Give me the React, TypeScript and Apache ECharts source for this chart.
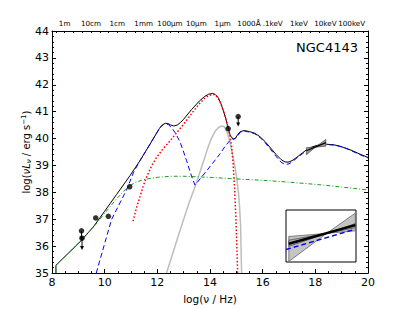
import React, { useEffect, useRef } from "react";
import * as echarts from "echarts";

// ---- data (log nu [Hz], log nuL_nu [erg/s]) ----
const totalModel = [[8.15,35.0],[8.15,35.29],[8.6,35.72],[9.1,36.2],[9.57,36.72],[10.0,37.3],[10.45,37.92],[10.96,38.62],[11.34,39.18],[11.72,39.79],[11.97,40.2],[12.08,40.38],[12.18,40.5],[12.3,40.57],[12.4,40.56],[12.5,40.51],[12.62,40.47],[12.75,40.5],[12.88,40.6],[13.0,40.72],[13.3,41.08],[13.6,41.4],[13.8,41.57],[13.95,41.65],[14.1,41.68],[14.2,41.64],[14.3,41.54],[14.4,41.34],[14.5,41.06],[14.6,40.74],[14.69,40.39],[14.76,40.15],[14.82,40.04],[14.9,39.99],[14.97,40.02],[15.05,40.15],[15.15,40.26],[15.3,40.3],[15.5,40.26],[15.7,40.2],[15.9,40.07],[16.1,39.88],[16.3,39.65],[16.5,39.42],[16.7,39.22],[16.85,39.13],[17.0,39.13],[17.15,39.2],[17.3,39.31],[17.5,39.46],[17.66,39.58],[17.85,39.68],[18.0,39.73],[18.2,39.78],[18.42,39.79],[18.7,39.77],[18.93,39.72],[19.2,39.63],[19.43,39.54],[19.7,39.42],[20.0,39.3]];
const synchrotron = [[8.15,35.0],[8.15,35.29],[8.6,35.72],[9.1,36.2],[9.57,36.7],[10.0,37.22],[10.45,37.76],[10.8,38.12],[11.0,38.28],[11.2,38.38],[11.4,38.45],[11.6,38.5],[12.0,38.56],[12.5,38.6],[13.0,38.6],[13.5,38.58],[14.0,38.56],[15.0,38.5],[16.0,38.45],[17.0,38.38],[18.0,38.3],[19.0,38.2],[20.0,38.09]];
const agnModel = [[9.68,35.0],[10.26,36.99],[10.83,38.09],[11.1,38.75],[11.34,39.18],[11.72,39.79],[11.97,40.2],[12.1,40.4],[12.22,40.52],[12.32,40.55],[12.42,40.52],[12.55,40.4],[12.7,40.18],[12.86,39.88],[13.0,39.5],[13.11,39.18],[13.3,38.6],[13.43,38.27],[13.87,38.8],[14.37,39.42],[14.6,39.75],[14.82,40.0],[14.92,39.97],[15.05,40.1],[15.15,40.24],[15.3,40.28],[15.5,40.24],[15.7,40.18],[15.9,40.04],[16.1,39.84],[16.3,39.6],[16.5,39.35],[16.7,39.12],[16.85,39.04],[17.0,39.06],[17.15,39.16],[17.3,39.28],[17.5,39.43],[17.66,39.55],[17.85,39.65],[18.0,39.7],[18.2,39.76],[18.42,39.78],[18.7,39.76],[18.93,39.71],[19.2,39.62],[19.43,39.52],[19.7,39.4],[20.0,39.28]];
const starburst = [[11.08,36.93],[11.2,37.4],[11.34,37.84],[11.46,38.22],[11.59,38.57],[11.78,38.98],[11.97,39.3],[12.2,39.6],[12.48,39.91],[12.72,40.2],[12.98,40.51],[13.3,40.93],[13.6,41.3],[13.8,41.5],[13.95,41.6],[14.1,41.65],[14.2,41.62],[14.3,41.52],[14.4,41.32],[14.5,41.05],[14.6,40.73],[14.69,40.39],[14.76,40.08],[14.82,39.7],[14.88,39.05],[14.93,38.2],[14.98,37.1],[15.02,36.0],[15.05,35.0]];
const stellar = [[12.35,35.0],[12.8,36.4],[13.2,37.6],[13.5,38.4],[13.7,39.0],[13.9,39.6],[14.05,40.0],[14.2,40.28],[14.33,40.42],[14.45,40.47],[14.55,40.43],[14.65,40.25],[14.75,39.9],[14.85,39.45],[14.95,38.95],[15.02,38.5],[15.08,38.0],[15.12,37.5],[15.16,36.8],[15.2,35.0]];
const detections = [[9.66,37.05],[10.14,37.11],[10.95,38.21],[14.69,40.37]];
// [x, y, arrow tip y]
const upperLimits = [[9.12,36.57,36.25],[9.14,36.3,35.9],[15.07,40.82,40.49]];
const xrayBowtie = [[17.66,39.4],[18.0,39.68],[18.4,39.97],[18.4,39.72],[18.0,39.68],[17.66,39.66]];
const xrayLine = [[17.66,39.55],[18.4,39.85]];

// inset (normalized box coordinates)
const insetWide = [[0.04,0.01],[0.58,0.55],[0.99,0.94],[0.99,0.6],[0.58,0.55],[0.04,0.49]];
const insetNarrow = [[0.04,0.3],[0.58,0.55],[0.99,0.74],[0.99,0.66],[0.58,0.55],[0.04,0.42]];
const insetBlack = [[0.04,0.35],[0.99,0.71]];
const insetBlue = [[0.0,0.24],[0.99,0.63]];

const topTickValues = [8.48,9.48,10.48,11.48,12.48,13.48,14.48,15.48,16.38,17.38,18.38,19.38];
const topTickLabels = ["1m","10cm","1cm","1mm","100μm","10μm","1μm","1000Å",".1keV","1keV","10keV","100keV"];

const FONT = "DejaVu Sans";

export default function App() {
  const ref = useRef<HTMLDivElement>(null);
  useEffect(() => {
    const chart = echarts.init(ref.current!, undefined, { renderer: "svg" });
    const topMinor: number[] = [];
    for (let v = 8.15; v < 20; v += 0.333) topMinor.push(Math.round(v * 1000) / 1000);
    const polyItem = (pts: number[][], fill: string, stroke: string) => (params: any, api: any) => ({
      type: "polygon",
      shape: { points: pts.map((p) => api.coord(p)) },
      style: { fill, stroke, lineWidth: 0.8 },
    });
    const axisCommon = {
      axisLine: { show: true, lineStyle: { color: "#000", width: 1 } },
      splitLine: { show: false },
    };
    chart.setOption({
      animation: false,
      backgroundColor: "#fff",
      grid: [
        { left: 52, top: 31, width: 316, height: 247 },
        { left: 286, top: 210, width: 70, height: 52, show: true, borderColor: "#000", borderWidth: 1, backgroundColor: "#fff", z: 10 },
      ],
      xAxis: [
        {
          ...axisCommon, type: "value", gridIndex: 0, position: "bottom", min: 8, max: 20, interval: 2,
          axisTick: { show: true, inside: true, length: 4, lineStyle: { color: "#000" } },
          minorTick: { show: true, splitNumber: 4, length: 2, lineStyle: { color: "#000" } },
          axisLabel: { color: "#000", fontFamily: FONT, fontSize: 11, margin: 4 },
          name: "log(ν / Hz)", nameLocation: "middle", nameGap: 17,
          nameTextStyle: { color: "#000", fontFamily: FONT, fontSize: 10.5 },
        },
        {
          ...axisCommon, type: "value", gridIndex: 0, position: "top", min: 8, max: 20,
          axisTick: { show: true, inside: true, length: 2, customValues: topMinor, lineStyle: { color: "#000" } },
          axisLabel: {
            show: true, color: "#000", fontFamily: FONT, fontSize: 7.2, margin: 4,
            customValues: topTickValues,
            formatter: (v: number) => {
              const i = topTickValues.findIndex((t) => Math.abs(t - v) < 1e-6);
              return i >= 0 ? topTickLabels[i] : "";
            },
          },
        },
        { type: "value", gridIndex: 1, min: 0, max: 1, show: false },
      ],
      yAxis: [
        {
          ...axisCommon, type: "value", gridIndex: 0, position: "left", min: 35, max: 44, interval: 1,
          axisTick: { show: true, inside: true, length: 4, lineStyle: { color: "#000" } },
          minorTick: { show: true, splitNumber: 5, length: 2, lineStyle: { color: "#000" } },
          axisLabel: { color: "#000", fontFamily: FONT, fontSize: 11, margin: 3 },
          name: "{n|log(}{i|νL}{s|ν}{n| / erg s}{p|−1}{n|)}", nameLocation: "middle", nameGap: 20, nameRotate: 90,
          nameMoveOverlap: false,
          nameTextStyle: {
            color: "#000", fontFamily: FONT, fontSize: 10,
            rich: {
              n: { fontFamily: FONT, fontSize: 10, color: "#000" },
              i: { fontFamily: FONT, fontSize: 10, fontStyle: "italic", color: "#000" },
              s: { fontFamily: FONT, fontSize: 7, fontStyle: "italic", color: "#000", verticalAlign: "bottom", padding: [4, 0, 0, 0] },
              p: { fontFamily: FONT, fontSize: 7, color: "#000", verticalAlign: "top", padding: [0, 0, 5, 0] },
            },
          },
        },
        {
          ...axisCommon, type: "value", gridIndex: 0, position: "right", min: 35, max: 44, interval: 1,
          axisTick: { show: true, inside: true, length: 4, lineStyle: { color: "#000" } },
          minorTick: { show: true, splitNumber: 5, length: 2, lineStyle: { color: "#000" } },
          axisLabel: { show: false },
        },
        { type: "value", gridIndex: 1, min: 0, max: 1, show: false },
      ],
      graphic: [
        { type: "text", right: 51, top: 41, style: { text: "NGC4143", fontFamily: FONT, fontSize: 13, fill: "#000" } },
      ],
      series: [
        { type: "line", data: totalModel, symbol: "none", lineStyle: { color: "#000", width: 1 }, z: 2 },
        { type: "line", data: stellar, symbol: "none", lineStyle: { color: "#bdbdbd", width: 1.5 }, z: 3 },
        { type: "line", data: synchrotron, symbol: "none", lineStyle: { color: "#1f9a1f", width: 1, type: [4, 2, 1, 2] }, z: 4 },
        { type: "line", data: agnModel, symbol: "none", lineStyle: { color: "#0000ff", width: 1, type: [5, 3] }, z: 5 },
        { type: "line", data: starburst, symbol: "none", lineStyle: { color: "#ff0000", width: 1.5, type: [1.5, 2] }, z: 6 },
        { type: "custom", data: [[0]], renderItem: polyItem(xrayBowtie, "#9a9a9a", "#555"), z: 7 },
        { type: "line", data: xrayLine, symbol: "none", lineStyle: { color: "#000", width: 1.2 }, z: 8 },
        { type: "scatter", data: detections, symbol: "circle", symbolSize: 5.5, itemStyle: { color: "#000" }, z: 9 },
        { type: "scatter", data: upperLimits.map((u) => [u[0], u[1]]), symbol: "circle", symbolSize: 5.5, itemStyle: { color: "#000" }, z: 9 },
        {
          type: "custom", data: upperLimits, z: 9,
          renderItem: (params: any, api: any) => {
            const p0 = api.coord([api.value(0), api.value(1)]);
            const p1 = api.coord([api.value(0), api.value(2)]);
            return {
              type: "group",
              children: [
                { type: "line", shape: { x1: p0[0], y1: p0[1], x2: p1[0], y2: p1[1] - 2 }, style: { stroke: "#000", lineWidth: 1 } },
                { type: "polygon", shape: { points: [[p1[0] - 2, p1[1] - 3], [p1[0] + 2, p1[1] - 3], [p1[0], p1[1] + 1]] }, style: { fill: "#000" } },
              ],
            };
          },
        },
        // inset
        { type: "custom", xAxisIndex: 2, yAxisIndex: 2, data: [[0]], renderItem: polyItem(insetWide, "#c4c4c4", "#666"), z: 11 },
        { type: "custom", xAxisIndex: 2, yAxisIndex: 2, data: [[0]], renderItem: polyItem(insetNarrow, "#a8a8a8", "#555"), z: 11 },
        { type: "line", xAxisIndex: 2, yAxisIndex: 2, data: insetBlue, symbol: "none", lineStyle: { color: "#0000ff", width: 1.5, type: [5, 3] }, z: 12 },
        { type: "line", xAxisIndex: 2, yAxisIndex: 2, data: insetBlack, symbol: "none", lineStyle: { color: "#000", width: 2.5 }, z: 13 },
      ],
    });
    return () => chart.dispose();
  }, []);
  return <div ref={ref} style={{ position: "fixed", left: 0, top: 0, width: 409, height: 309 }} />;
}
